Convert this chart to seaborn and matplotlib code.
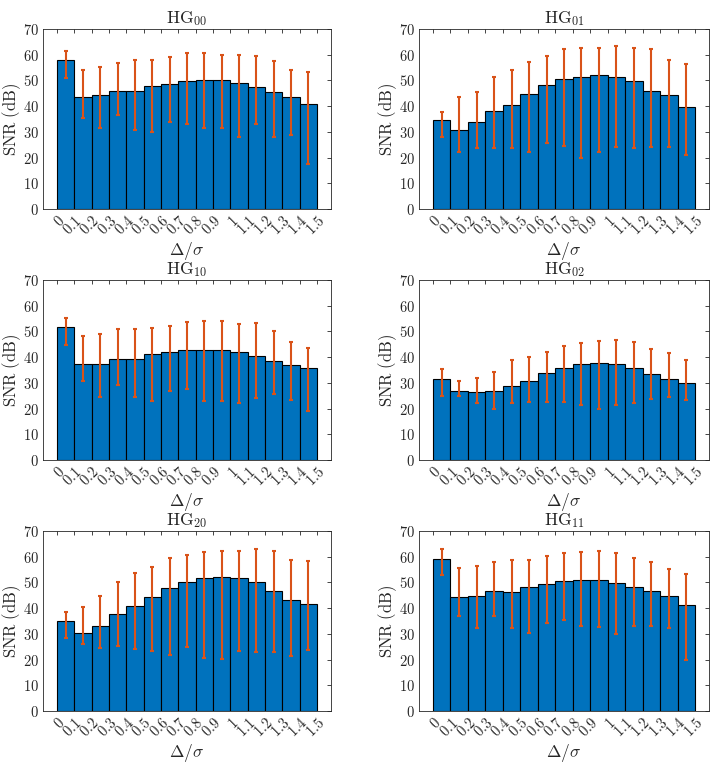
import numpy as np
import pandas as pd
import seaborn as sns
import matplotlib
matplotlib.use("Agg")
import matplotlib.pyplot as plt

# x tick labels (bin edges), 15 bars between them
edges = ["0", "0.1", "0.2", "0.3", "0.4", "0.5", "0.6", "0.7", "0.8", "0.9",
         "1", "1.1", "1.2", "1.3", "1.4", "1.5"]

# mean SNR per bin, and lower / upper ends of the error bars
hg00 = [57.8, 43.6, 44.3, 45.8, 45.7, 47.9, 48.5, 49.6, 50.0, 50.0, 49.0, 47.6, 45.4, 43.6, 40.7]
hg00_lo = [50.8, 35.5, 31.5, 36.5, 30.8, 29.8, 33.8, 33.2, 31.5, 31.5, 28.0, 33.0, 28.0, 28.6, 17.4]
hg00_hi = [61.3, 54.2, 55.2, 56.8, 57.8, 58.1, 59.2, 60.6, 60.6, 59.9, 59.9, 59.5, 57.5, 54.2, 53.2]

hg01 = [34.7, 30.7, 34.0, 38.0, 40.3, 44.6, 48.2, 50.4, 51.4, 52.1, 51.5, 49.6, 45.7, 44.2, 39.6]
hg01_lo = [27.9, 22.2, 23.9, 23.9, 23.9, 22.3, 25.8, 24.6, 20.0, 22.3, 24.3, 23.9, 24.3, 24.0, 21.1]
hg01_hi = [37.8, 43.6, 45.6, 51.4, 54.2, 57.1, 59.6, 62.1, 62.8, 62.8, 63.2, 62.8, 62.4, 58.1, 56.4]

hg10 = [51.6, 37.4, 37.4, 39.1, 39.1, 41.2, 41.9, 42.6, 42.9, 42.9, 41.9, 40.6, 38.4, 37.1, 35.6]
hg10_lo = [44.7, 30.6, 24.4, 29.1, 24.4, 23.1, 26.8, 27.8, 23.1, 23.1, 22.1, 24.2, 25.7, 23.2, 19.2]
hg10_hi = [55.1, 48.2, 49.0, 50.8, 51.0, 51.4, 52.1, 53.5, 53.9, 53.9, 52.9, 53.2, 50.0, 45.7, 43.5]

hg02 = [31.6, 27.0, 26.6, 27.0, 28.7, 30.9, 33.8, 35.8, 37.3, 37.9, 37.3, 35.8, 33.5, 31.6, 30.1]
hg02_lo = [24.9, 24.9, 22.1, 19.7, 22.1, 22.6, 22.6, 22.6, 21.2, 19.7, 21.2, 22.3, 23.6, 24.5, 23.4]
hg02_hi = [35.2, 30.9, 31.9, 34.2, 38.7, 39.9, 41.9, 44.5, 45.6, 46.1, 46.6, 46.0, 43.0, 41.7, 38.7]

hg20 = [34.9, 30.4, 33.1, 37.8, 40.9, 44.5, 47.9, 50.3, 51.8, 52.1, 51.8, 50.0, 46.8, 43.1, 41.6]
hg20_lo = [28.4, 26.2, 24.4, 25.2, 24.0, 23.2, 21.9, 24.8, 20.8, 20.4, 23.2, 22.9, 22.9, 21.3, 23.6]
hg20_hi = [38.6, 40.6, 44.9, 50.0, 53.6, 56.1, 59.6, 60.8, 61.7, 62.1, 62.3, 63.1, 62.3, 58.8, 58.4]

hg11 = [59.2, 44.5, 44.8, 46.8, 46.4, 48.3, 49.5, 50.6, 51.0, 51.0, 49.9, 48.4, 46.8, 44.8, 41.4]
hg11_lo = [52.7, 37.1, 32.2, 37.1, 32.2, 30.4, 34.2, 35.3, 33.0, 32.7, 30.1, 33.2, 33.0, 32.3, 20.0]
hg11_hi = [62.9, 55.7, 56.4, 57.8, 58.6, 58.8, 60.4, 61.4, 61.7, 62.1, 61.4, 59.5, 58.1, 55.3, 53.1]

panels = [
    ("00", hg00, hg00_lo, hg00_hi),
    ("01", hg01, hg01_lo, hg01_hi),
    ("10", hg10, hg10_lo, hg10_hi),
    ("02", hg02, hg02_lo, hg02_hi),
    ("20", hg20, hg20_lo, hg20_hi),
    ("11", hg11, hg11_lo, hg11_hi),
]

sns.set_style("white")
plt.rcParams["mathtext.fontset"] = "cm"
plt.rcParams["font.family"] = ["DejaVu Serif"]

BLUE = "#0072BD"
ORANGE = "#D95319"
AXC = "#262626"

fig = plt.figure(figsize=(7.17, 7.65), dpi=100)
lefts = [43 / 717, 419 / 717]
widths = [288 / 717, 290 / 717]
bottoms = [1 - 209 / 765, 1 - 460 / 765, 1 - 711 / 765]
h = 180 / 765

for i, (name, vals, lo, hi) in enumerate(panels):
    r, c = divmod(i, 2)
    ax = fig.add_axes([lefts[c], bottoms[r], widths[c], h])
    df = pd.DataFrame({"bin": [str(k) for k in range(len(vals))], "snr": vals})
    sns.barplot(data=df, x="bin", y="snr", color=BLUE, saturation=1, width=1,
                edgecolor="black", linewidth=0.8, errorbar=None, ax=ax)
    v = np.array(vals)
    yerr = [v - np.array(lo), np.array(hi) - v]
    ax.errorbar(np.arange(len(vals)), v, yerr=yerr, fmt="none", ecolor=ORANGE,
                elinewidth=1.5, capsize=1.6, capthick=1.5, zorder=5)

    ax.set_xlim(-1.3, len(vals) - 1 + 1.3)
    ax.set_ylim(0, 70)
    ax.set_xticks(np.arange(len(edges)) - 0.5)
    ax.set_xticklabels([f"${t}$" for t in edges], rotation=45, ha="right",
                       va="top", rotation_mode="anchor", fontsize=10.5)
    ax.set_yticks(range(0, 71, 10))
    ax.set_yticklabels([f"${t}$" for t in range(0, 71, 10)], fontsize=10.5)
    ax.tick_params(direction="in", length=3, width=0.6, top=True, right=True,
                   colors=AXC, pad=3)
    ax.tick_params(axis="x", pad=3)
    for s in ax.spines.values():
        s.set_color(AXC)
        s.set_linewidth(0.6)
    ax.set_title(r"$\mathrm{HG}_{%s}$" % name, fontsize=12.5, pad=4)
    ax.set_ylabel(r"$\mathrm{SNR\ (dB)}$", fontsize=12, labelpad=0)
    ax.set_xlabel(r"$\Delta/\sigma$", fontsize=12.5, labelpad=1)

fig.savefig("out.png", dpi=100)
